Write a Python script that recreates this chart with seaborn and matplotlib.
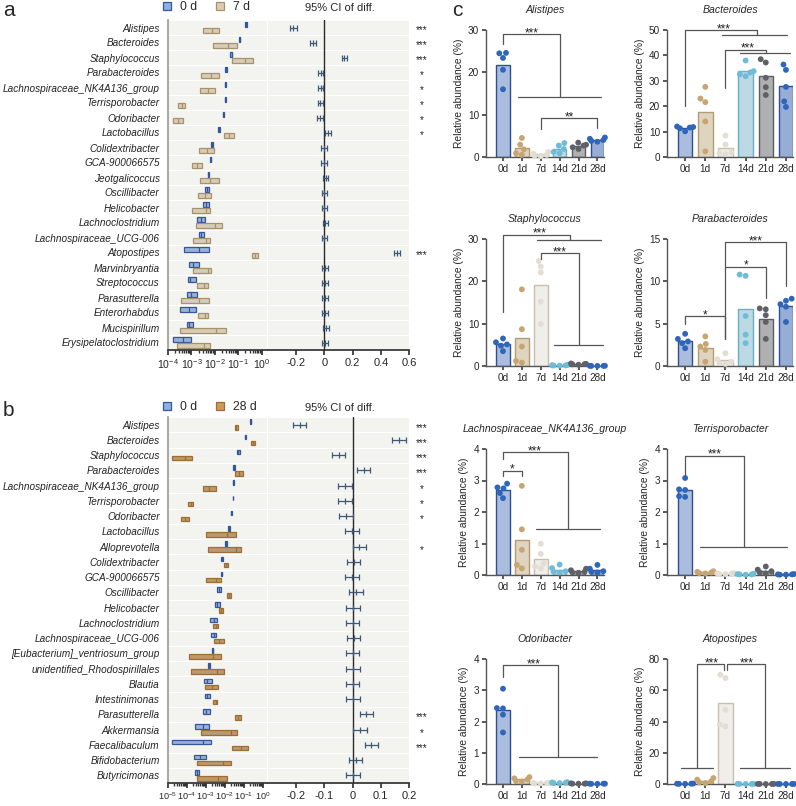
import numpy as np
import pandas as pd
import matplotlib.pyplot as plt
import seaborn as sns
from matplotlib.patches import Patch
from matplotlib.ticker import LogLocator, NullFormatter
from matplotlib.transforms import blended_transform_factory

W, H = 796, 806

# ---------------- panel a : 0 d vs 7 d ----------------
genera_a = ["Alistipes", "Bacteroides", "Staphylococcus", "Parabacteroides",
            "Lachnospiraceae_NK4A136_group", "Terrisporobacter", "Odoribacter",
            "Lactobacillus", "Colidextribacter", "GCA-900066575", "Jeotgalicoccus",
            "Oscillibacter", "Helicobacter", "Lachnoclostridium",
            "Lachnospiraceae_UCG-006", "Atopostipes", "Marvinbryantia",
            "Streptococcus", "Parasutterella", "Enterorhabdus", "Mucispirillum",
            "Erysipelatoclostridium"]
a_0d_lo = [0.20, 0.108, 0.046, 0.0275, 0.027, 0.0258, 0.0212, 0.0139, 0.0065, 0.0062, 0.0050,
           0.0039, 0.0032, 0.00177, 0.00208, 0.000495, 0.00078, 0.00069, 0.00064, 0.00032,
           0.00064, 0.000163]
a_0d_med = [0.22, 0.113, 0.051, 0.030, 0.028, 0.027, 0.022, 0.0153, 0.0072, 0.0065, 0.0053,
            0.0047, 0.0041, 0.0025, 0.0025, 0.00215, 0.00112, 0.00089, 0.0010, 0.00076,
            0.00081, 0.00045]
a_0d_hi = [0.24, 0.12, 0.056, 0.0335, 0.029, 0.0284, 0.0234, 0.0169, 0.0080, 0.0068, 0.0057,
           0.0057, 0.0054, 0.0039, 0.0033, 0.0057, 0.0020, 0.00155, 0.00166, 0.0016,
           0.00112, 0.0010]
a_7d_lo = [0.0030, 0.0085, 0.051, 0.0026, 0.0023, 0.000266, 0.000169, 0.0242, 0.00208, 0.00108,
           0.0023, 0.00195, 0.00108, 0.0016, 0.00112, 0.375, 0.00112, 0.00177, 0.00037,
           0.00195, 0.000335, 0.00025]
a_7d_med = [0.0077, 0.037, 0.19, 0.0065, 0.0049, 0.00038, 0.00026, 0.0407, 0.0044, 0.00177,
            0.0061, 0.00375, 0.0041, 0.010, 0.0040, 0.50, 0.0050, 0.0035, 0.00215, 0.0036,
            0.0107, 0.0035]
a_7d_hi = [0.0143, 0.086, 0.40, 0.015, 0.0097, 0.00055, 0.00042, 0.0665, 0.0091, 0.0028,
           0.0153, 0.0070, 0.0063, 0.0205, 0.0063, 0.72, 0.0070, 0.0052, 0.0054, 0.0052,
           0.031, 0.0063]
a_ci_mid = [-0.22, -0.083, 0.142, -0.026, -0.026, -0.028, -0.030, 0.026, -0.002, -0.002, 0.010,
            0.0, 0.0, 0.007, 0.0, 0.517, 0.005, 0.005, 0.003, 0.005, 0.012, 0.005]
a_ci_half = [0.024, 0.02, 0.02, 0.019, 0.019, 0.019, 0.019, 0.019, 0.019, 0.019, 0.019,
             0.019, 0.019, 0.019, 0.019, 0.02, 0.019, 0.019, 0.019, 0.019, 0.019, 0.019]
a_sig = ["***", "***", "***", "*", "*", "*", "*", "*", "", "", "", "", "", "", "",
         "***", "", "", "", "", "", ""]
a_ci_ticks = [-0.2, 0, 0.2, 0.4, 0.6]
a_decades = [-4, -3, -2, -1, 0]

# ---------------- panel b : 0 d vs 28 d ----------------
genera_b = ["Alistipes", "Bacteroides", "Staphylococcus", "Parabacteroides",
            "Lachnospiraceae_NK4A136_group", "Terrisporobacter", "Odoribacter",
            "Lactobacillus", "Alloprevotella", "Colidextribacter", "GCA-900066575",
            "Oscillibacter", "Helicobacter", "Lachnoclostridium", "Lachnospiraceae_UCG-006",
            "[Eubacterium]_ventriosum_group", "unidentified_Rhodospirillales", "Blautia",
            "Intestinimonas", "Parasutterella", "Akkermansia", "Faecalibaculum",
            "Bifidobacterium", "Butyricimonas"]
b_0d_lo = [0.218, 0.113, 0.046, 0.028, 0.027, 0.026, 0.021, 0.0139, 0.0096, 0.0064, 0.0064,
           0.00405, 0.0030, 0.0017, 0.00193, 0.00218, 0.00123, 0.00075, 0.00088, 0.00066,
           0.00025, 0.0000164, 0.00023, 0.00026]
b_0d_med = [0.23, 0.12, 0.052, 0.030, 0.028, 0.027, 0.022, 0.0157, 0.0113, 0.0071, 0.0067,
            0.0048, 0.00405, 0.0026, 0.0026, 0.0023, 0.00139, 0.00118, 0.00113, 0.00104,
            0.00069, 0.00066, 0.00046, 0.00033]
b_0d_hi = [0.247, 0.128, 0.059, 0.033, 0.029, 0.028, 0.0237, 0.0178, 0.0133, 0.0078, 0.0070,
           0.0059, 0.0054, 0.00405, 0.0034, 0.00238, 0.00157, 0.0020, 0.0017, 0.0017,
           0.0015, 0.00185, 0.00096, 0.00042]
b_28d_lo = [0.033, 0.237, 0.0000164, 0.034, 0.00066, 0.000118, 0.000048, 0.00104, 0.00133,
            0.0085, 0.0010, 0.0123, 0.0048, 0.0023, 0.0026, 0.000123, 0.00017, 0.00088,
            0.00238, 0.034, 0.00056, 0.0228, 0.00034, 0.00032]
b_28d_med = [0.039, 0.303, 0.000081, 0.056, 0.00145, 0.000157, 0.000081, 0.0133, 0.0405,
             0.0109, 0.0036, 0.0164, 0.0064, 0.0032, 0.0048, 0.00237, 0.0039, 0.0020, 0.0032,
             0.050, 0.020, 0.069, 0.0078, 0.0042]
b_28d_hi = [0.048, 0.388, 0.000178, 0.092, 0.0032, 0.000218, 0.000133, 0.039, 0.069, 0.0145,
            0.0064, 0.0218, 0.0078, 0.0044, 0.0092, 0.0064, 0.0092, 0.0042, 0.00405, 0.075,
            0.046, 0.157, 0.0218, 0.0128]
b_ci_mid = [-0.188, 0.165, -0.05, 0.039, -0.027, -0.027, -0.024, -0.002, 0.024, 0.004, -0.002,
            0.013, 0.002, 0.0, 0.004, 0.0, 0.002, 0.0, 0.001, 0.049, 0.026, 0.067, 0.011, 0.002]
b_ci_half = [0.024] * len(genera_b)
b_sig = ["***", "***", "***", "***", "*", "*", "*", "", "*", "", "", "", "", "", "", "", "",
         "", "", "***", "*", "***", "", ""]
b_ci_ticks = [-0.2, -0.1, 0, 0.1, 0.2]
b_decades = [-5, -4, -3, -2, -1, 0]

# ---------------- panel c : relative abundance per day ----------------
days = ["0d", "1d", "7d", "14d", "21d", "28d"]
alistipes_c = [[24.6, 24.5, 23.4, 20.6, 16.0], [4.5, 2.9, 1.8, 0.9, 0.5],
               [1.2, 0.8, 0.5, 0.3, 0.2], [3.3, 2.7, 1.9, 1.2, 0.9],
               [3.4, 2.9, 2.7, 2.3, 1.9], [4.6, 4.3, 4.0, 3.8, 3.6]]
bacteroides_c = [[12.0, 11.8, 11.6, 11.3, 10.1], [27.6, 23.0, 21.6, 14.0, 2.2],
                 [8.4, 4.9, 1.8, 1.5, 1.2], [38.0, 33.8, 33.3, 32.6, 31.8],
                 [38.5, 37.2, 31.2, 27.5, 24.4], [36.4, 34.3, 27.6, 21.9, 19.7]]
staphylococcus_c = [[6.5, 5.6, 5.1, 4.8, 3.5], [18.1, 8.7, 4.6, 1.2, 0.8],
                    [24.8, 23.5, 22.1, 15.2, 9.9], [0.25, 0.2, 0.15, 0.1, 0.08],
                    [0.6, 0.5, 0.45, 0.4, 0.3], [0.05, 0.04, 0.03, 0.02, 0.02]]
parabacteroides_c = [[3.8, 3.2, 2.9, 2.7, 2.1], [3.5, 2.6, 2.3, 1.9, 0.5],
                     [1.5, 0.8, 0.5, 0.35, 0.25], [10.8, 10.65, 5.9, 3.7, 2.7],
                     [6.8, 6.7, 6.0, 5.2, 3.2], [7.95, 7.7, 7.3, 7.0, 5.2]]
lachno_nk_c = [[2.9, 2.78, 2.75, 2.6, 2.44], [2.83, 1.45, 0.8, 0.32, 0.21],
               [0.99, 0.67, 0.37, 0.27, 0.21], [0.33, 0.22, 0.12, 0.1, 0.08],
               [0.2, 0.15, 0.1, 0.08, 0.07], [0.32, 0.2, 0.12, 0.1, 0.08]]
terrisporobacter_c = [[3.08, 2.72, 2.7, 2.5, 2.48], [0.12, 0.1, 0.08, 0.06, 0.05],
                      [0.06, 0.05, 0.04, 0.03, 0.03], [0.04, 0.03, 0.02, 0.02, 0.01],
                      [0.27, 0.17, 0.12, 0.08, 0.05], [0.03, 0.02, 0.02, 0.01, 0.01]]
odoribacter_c = [[3.05, 2.43, 2.42, 2.22, 1.65], [0.22, 0.18, 0.15, 0.1, 0.08],
                 [0.04, 0.03, 0.03, 0.02, 0.02], [0.06, 0.05, 0.04, 0.03, 0.03],
                 [0.02, 0.02, 0.01, 0.01, 0.01], [0.01, 0.01, 0.01, 0.005, 0.005]]
atopostipes_c = [[0.3, 0.2, 0.2, 0.1, 0.1], [3.8, 2.8, 1.7, 1.1, 0.6],
                 [69.9, 67.8, 47.5, 38.0, 36.9], [0.1, 0.08, 0.05, 0.03, 0.02],
                 [0.05, 0.04, 0.03, 0.02, 0.01], [0.04, 0.03, 0.02, 0.02, 0.01]]

# significance brackets (polylines in data units); stars sit on the bracket line
brackets = {
    "Alistipes": ([[(0, 26.8), (0, 29.0), (3, 29.0), (3, 14.1)], [(0.8, 14.1), (5.2, 14.1)],
                   [(2, 6.5), (2, 9.15), (5, 9.15), (5, 6.9)]],
                  [("***", 1.5, 29.0), ("**", 3.5, 9.15)]),
    "Bacteroides": ([[(0, 20), (0, 50), (3.55, 50), (3.55, 48.1)], [(1.85, 48.1), (5.05, 48.1)],
                     [(2, 27.3), (2, 42.2), (4.0, 42.2), (4.0, 41.0)], [(2.7, 41.0), (5.2, 41.0)]],
                    [("***", 1.9, 50.0), ("***", 3.1, 42.2)]),
    "Staphylococcus": ([[(0, 12.8), (0, 31.0), (3.55, 31.0), (3.55, 29.7)], [(1.8, 29.7), (5.2, 29.7)],
                        [(2, 25.3), (2, 26.7), (4.03, 26.7), (4.03, 4.9)], [(2.7, 4.9), (5.3, 4.9)]],
                       [("***", 1.96, 31.0), ("***", 3.0, 26.7)]),
    "Parabacteroides": ([[(0, 5.0), (0, 5.9), (2, 5.9), (2, 3.2)],
                         [(2, 3.2), (2, 14.6), (5, 14.6), (5, 9.4)],
                         [(2, 11.75), (4, 11.75), (4, 8.0)]],
                        [("*", 1.0, 5.9), ("***", 3.5, 14.6), ("*", 3.0, 11.75)]),
    "Lachnospiraceae_NK4A136_group": ([[(0, 3.69), (0, 3.9), (3.44, 3.9), (3.44, 1.45)],
                                       [(1.75, 1.45), (5.13, 1.45)],
                                       [(0, 3.13), (0, 3.31), (1, 3.31), (1, 3.15)]],
                                      [("***", 1.7, 3.9), ("*", 0.5, 3.31)]),
    "Terrisporobacter": ([[(0, 3.18), (0, 3.79), (2.93, 3.79), (2.93, 0.9)], [(0.76, 0.9), (5.03, 0.9)]],
                         [("***", 1.45, 3.79)]),
    "Odoribacter": ([[(0, 3.42), (0, 3.8), (2.93, 3.8), (2.93, 0.88)], [(0.84, 0.88), (5.0, 0.88)]],
                    [("***", 1.6, 3.8)]),
    "Atopostipes": ([[(-0.2, 10.2), (1.4, 10.2)], [(0.6, 10.2), (0.6, 76.8), (1.95, 76.8), (1.95, 73)],
                     [(2.1, 73), (2.1, 76.8), (3.98, 76.8), (3.98, 10.2)], [(2.7, 10.2), (5.2, 10.2)]],
                    [("***", 1.3, 76.8), ("***", 3.05, 76.8)]),
}

c_panels = [("Alistipes", alistipes_c, 30, 10), ("Bacteroides", bacteroides_c, 50, 10),
            ("Staphylococcus", staphylococcus_c, 30, 10), ("Parabacteroides", parabacteroides_c, 15, 5),
            ("Lachnospiraceae_NK4A136_group", lachno_nk_c, 4, 1),
            ("Terrisporobacter", terrisporobacter_c, 4, 1),
            ("Odoribacter", odoribacter_c, 4, 1), ("Atopostipes", atopostipes_c, 80, 20)]

# ---------------- style ----------------
sns.set_theme(style="ticks")
plt.rcParams["font.family"] = ["Liberation Sans", "DejaVu Sans"]
plt.rcParams["mathtext.fontset"] = "custom"
plt.rcParams["mathtext.rm"] = "Liberation Sans"
plt.rcParams["mathtext.it"] = "Liberation Sans:italic"

BLUE_FILL, BLUE_EDGE = "#8fb0e2", "#34579a"
TAN_FILL, TAN_EDGE = "#dccdb2", "#a8926c"
BROWN_FILL, BROWN_EDGE = "#cb9a5c", "#9c6d36"
PANEL_BG = "#f3f3ef"
CI_COLOR = "#3f5878"
LINE = "#555555"

bar_fill = {"0d": "#a3bbe6", "1d": "#e4d5ba", "7d": "#f1eee8", "14d": "#b5dde9",
            "21d": "#aeb0b3", "28d": "#8eaae0"}
bar_edge = ["#2e4f8f", "#b29c76", "#c6bfb2", "#6aaeca", "#5b5e63", "#2b4f9a"]
dot_color = {"0d": "#2f66b9", "1d": "#c7a571", "7d": "#e3ded3", "14d": "#6fbcd8",
             "21d": "#5f6166", "28d": "#2f66b9"}


def px_axes(fig, l, t, r, b):
    return fig.add_axes([l / W, 1 - b / H, (r - l) / W, (b - t) / H])


def long_box(genera, lo, med, hi, label):
    rows = []
    for g, a, m, b in zip(genera, lo, med, hi):
        for v in (a, a, m, b, b):
            rows.append({"genus": g, "value": v, "group": label})
    return pd.DataFrame(rows)


def draw_box_panel(ax, genera, frames, labels, fills, edges, decades, tick_size):
    palette = dict(zip(labels, fills))
    ax.set_facecolor(PANEL_BG)
    for df, edge in zip(frames, edges):
        sns.boxplot(data=df, x="value", y="genus", hue="group", order=genera,
                    hue_order=labels, orient="h", log_scale=True, whis=0, dodge=True,
                    showfliers=False, showcaps=False, width=0.8, gap=0.25,
                    palette=palette, linecolor=edge, linewidth=0.9, legend=False, ax=ax)
    n = len(genera)
    for i in range(n + 1):
        ax.axhline(i - 0.5, color="white", lw=0.8, zorder=0.5)
    ax.set_ylim(n - 0.5, -0.5)
    ax.set_xlim(10.0 ** decades[0], 10 ** 0.22)
    ax.set_xticks([10.0 ** k for k in decades])
    ax.xaxis.set_minor_locator(LogLocator(base=10, subs=np.arange(2, 10), numticks=50))
    ax.xaxis.set_minor_formatter(NullFormatter())
    ax.set_yticks(range(n))
    ax.set_yticklabels(genera, fontstyle="italic", fontsize=7.2, color="#222")
    ax.tick_params(axis="y", length=0, pad=6)
    ax.tick_params(axis="x", which="major", length=3.5, labelsize=tick_size, pad=2, color="#333")
    ax.tick_params(axis="x", which="minor", length=2, color="#333")
    ax.set_xlabel("")
    ax.set_ylabel("")
    for s in ["top", "right"]:
        ax.spines[s].set_visible(False)
    ax.spines["left"].set_color("#999999")
    ax.spines["left"].set_linewidth(1.2)
    ax.spines["bottom"].set_color("#333333")


def draw_ci_panel(ax, mid, half, sig, ticks):
    n = len(mid)
    ax.set_facecolor(PANEL_BG)
    for i in range(n + 1):
        ax.axhline(i - 0.5, color="white", lw=0.8, zorder=0.5)
    ax.axvline(0, color="#2a2a2a", lw=1, zorder=1)
    ax.errorbar(mid, np.arange(n), xerr=half, fmt="|", color=CI_COLOR, ms=5, mew=0.9,
                capsize=2.5, capthick=0.9, elinewidth=0.9, zorder=3)
    ax.set_ylim(n - 0.5, -0.5)
    ax.set_xlim(ticks[0] - (ticks[1] - ticks[0]), ticks[-1])
    ax.set_xticks(ticks)
    ax.set_xticklabels(["0" if t == 0 else f"{t:g}" for t in ticks])
    ax.set_yticks([])
    ax.tick_params(axis="x", length=3.5, labelsize=8, pad=2, color="#333")
    for s in ["top", "right", "left"]:
        ax.spines[s].set_visible(False)
    ax.spines["bottom"].set_color("#333333")
    trans = blended_transform_factory(ax.transAxes, ax.transData)
    for i, s in enumerate(sig):
        if s:
            ax.text(1.092, i + 0.2, s, transform=trans, ha="center", va="center",
                    fontsize=7, color="#222")


def draw_abundance(ax, title, values, ymax, step):
    df = pd.DataFrame([{"day": d, "val": v} for d, vals in zip(days, values) for v in vals])
    sns.barplot(data=df, x="day", y="val", hue="day", order=days, hue_order=days,
                palette=bar_fill, errorbar=None, width=0.72, legend=False, ax=ax)
    for cont, edge in zip(ax.containers, bar_edge):
        for bar in cont:
            bar.set_edgecolor(edge)
            bar.set_linewidth(1.0)
    sns.swarmplot(data=df, x="day", y="val", hue="day", order=days, hue_order=days,
                  palette=dot_color, size=4.2, legend=False, ax=ax)
    for coll in ax.collections:
        coll.set_clip_on(False)
        coll.set_zorder(4)
    ax.set_ylim(0, ymax)
    ax.set_yticks(np.arange(0, ymax + step / 2, step))
    ax.set_xlim(-0.9, 5.35)
    ax.set_title(title, fontstyle="italic", fontsize=7.6, pad=12)
    ax.set_xlabel("")
    ax.set_ylabel("Relative abundance (%)", fontsize=7.4, labelpad=3)
    ax.tick_params(length=3, labelsize=7.2, pad=2, color="#444")
    sns.despine(ax=ax)
    for s in ["left", "bottom"]:
        ax.spines[s].set_color("#555555")
        ax.spines[s].set_linewidth(1.0)
    lines, stars = brackets[title]
    for pts in lines:
        xs, ys = zip(*pts)
        ax.plot(xs, ys, color=LINE, lw=0.9, clip_on=False, zorder=5)
    for txt, x, y in stars:
        ax.annotate(txt, (x, y), xytext=(0, -1.5), textcoords="offset points",
                    ha="center", va="baseline", fontsize=8.5, color="#222",
                    annotation_clip=False)


fig = plt.figure(figsize=(W / 100, H / 100), dpi=100)

# panel a
ax_a_box = px_axes(fig, 168, 20, 267, 350)
ax_a_ci = px_axes(fig, 268, 20, 409, 350)
frames_a = [long_box(genera_a, a_0d_lo, a_0d_med, a_0d_hi, "0 d"),
            long_box(genera_a, a_7d_lo, a_7d_med, a_7d_hi, "7 d")]
draw_box_panel(ax_a_box, genera_a, frames_a, ["0 d", "7 d"], [BLUE_FILL, TAN_FILL],
               [BLUE_EDGE, TAN_EDGE], a_decades, 7.6)
draw_ci_panel(ax_a_ci, a_ci_mid, a_ci_half, a_sig, a_ci_ticks)

# panel b
ax_b_box = px_axes(fig, 168, 417, 267, 783)
ax_b_ci = px_axes(fig, 268, 417, 409, 783)
frames_b = [long_box(genera_b, b_0d_lo, b_0d_med, b_0d_hi, "0 d"),
            long_box(genera_b, b_28d_lo, b_28d_med, b_28d_hi, "28 d")]
draw_box_panel(ax_b_box, genera_b, frames_b, ["0 d", "28 d"], [BLUE_FILL, BROWN_FILL],
               [BLUE_EDGE, BROWN_EDGE], b_decades, 6.6)
draw_ci_panel(ax_b_ci, b_ci_mid, b_ci_half, b_sig, b_ci_ticks)

# legends and headers for a / b
for top, labels, fills, edges in [(7.5, ["0 d", "7 d"], [BLUE_FILL, TAN_FILL], [BLUE_EDGE, TAN_EDGE]),
                                  (407.5, ["0 d", "28 d"], [BLUE_FILL, BROWN_FILL], [BLUE_EDGE, BROWN_EDGE])]:
    handles = [Patch(facecolor=f, edgecolor=e, linewidth=0.9) for f, e in zip(fills, edges)]
    fig.legend(handles, labels, loc="center left", bbox_to_anchor=(163 / W, 1 - top / H),
               ncol=2, frameon=False, fontsize=8.8, handlelength=0.65, handleheight=0.65,
               handletextpad=0.7, columnspacing=1.6, borderaxespad=0, borderpad=0)
    fig.text(340 / W, 1 - (top + 0.5) / H, "95% CI of diff.", ha="center", va="center", fontsize=8)

fig.text(3 / W, 1 - 11 / H, "a", fontsize=15, va="center", ha="left")
fig.text(3 / W, 1 - 411 / H, "b", fontsize=15, va="center", ha="left")
fig.text(452 / W, 1 - 11 / H, "c", fontsize=15, va="center", ha="left")

# panel c
col_x = [(486, 604), (667, 793)]
row_y = [(30, 157), (239, 366), (449, 575), (659, 784)]
for k, (title, values, ymax, step) in enumerate(c_panels):
    l, r = col_x[k % 2]
    t, b = row_y[k // 2]
    ax = px_axes(fig, l, t, r, b)
    draw_abundance(ax, title, values, ymax, step)

fig.savefig("out.png", dpi=100)
